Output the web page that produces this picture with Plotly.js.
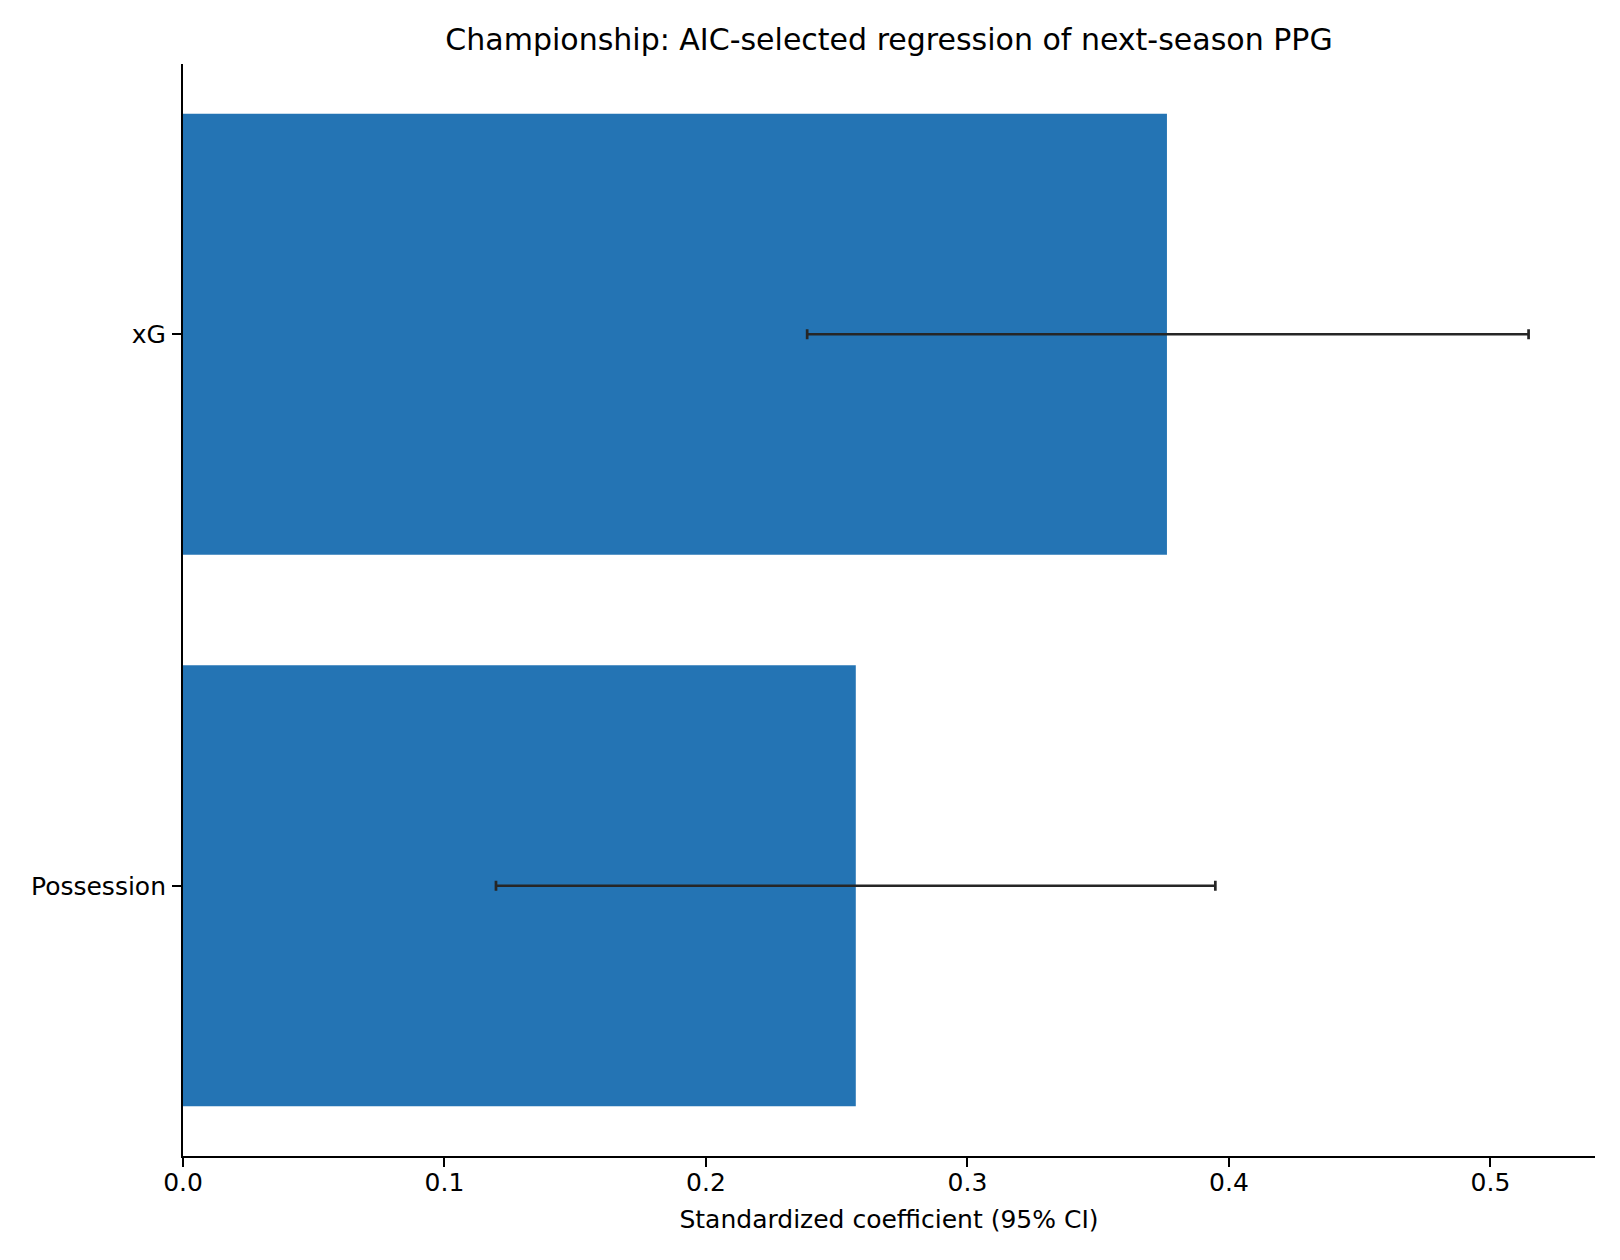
<!DOCTYPE html>
<html>
<head>
<meta charset="utf-8">
<script src="https://cdn.plot.ly/plotly-3.0.1.min.js"></script>
<style>
  html, body { margin: 0; padding: 0; background: #fff; }
  #chart { width: 1620px; height: 1260px; }
</style>
</head>
<body>
<div id="chart"></div>
<script>
// coefficient estimates, bottom to top
const predictors = ['Possession', 'xG'];
const coefs = [0.2573, 0.3763];
const ciLow = [0.1197, 0.2387];
const ciHigh = [0.3948, 0.5146];

const barColor = '#2474b4';
const errColor = '#262626';
const baseFont = { family: 'DejaVu Sans, sans-serif', size: 25, color: '#000' };

const trace = {
    type: 'bar',
    orientation: 'h',
    y: predictors,
    x: coefs,
    width: 0.8,
    marker: { color: barColor, line: { width: 0 } },
    error_x: {
        type: 'data',
        symmetric: false,
        array: coefs.map((c, i) => ciHigh[i] - c),
        arrayminus: coefs.map((c, i) => c - ciLow[i]),
        color: errColor,
        thickness: 2.7,
        width: 5
    },
    hoverinfo: 'x+y'
};

const layout = {
    width: 1620,
    height: 1260,
    paper_bgcolor: '#fff',
    plot_bgcolor: '#fff',
    font: baseFont,
    showlegend: false,
    margin: { l: 183, r: 25, t: 64, b: 104 },
    title: {
        text: 'Championship: AIC-selected regression of next-season PPG',
        font: { family: baseFont.family, size: 30, color: '#000' },
        x: 0.5, xref: 'paper', xanchor: 'center',
        y: 1 - 39 / 1260, yref: 'container', yanchor: 'middle'
    },
    xaxis: {
        range: [0, 0.54],
        tickvals: [0, 0.1, 0.2, 0.3, 0.4, 0.5],
        ticktext: ['0.0', '0.1', '0.2', '0.3', '0.4', '0.5'],
        showgrid: false,
        zeroline: false,
        showline: true,
        linecolor: '#000',
        linewidth: 2,
        ticks: 'outside',
        ticklen: 9,
        tickwidth: 2,
        tickcolor: '#000',
        ticklabelstandoff: -6,
        tickfont: baseFont,
        title: { text: 'Standardized coefficient (95% CI)', font: baseFont, standoff: 14 }
    },
    yaxis: {
        type: 'category',
        categoryorder: 'array',
        categoryarray: predictors,
        range: [-0.49, 1.49],
        showgrid: false,
        zeroline: false,
        showline: true,
        linecolor: '#000',
        linewidth: 2,
        ticks: 'outside',
        ticklen: 9,
        tickwidth: 2,
        tickcolor: '#000',
        ticklabelstandoff: 1,
        tickfont: baseFont
    }
};

Plotly.newPlot('chart', [trace], layout, { displayModeBar: false, staticPlot: true });
</script>
</body>
</html>
